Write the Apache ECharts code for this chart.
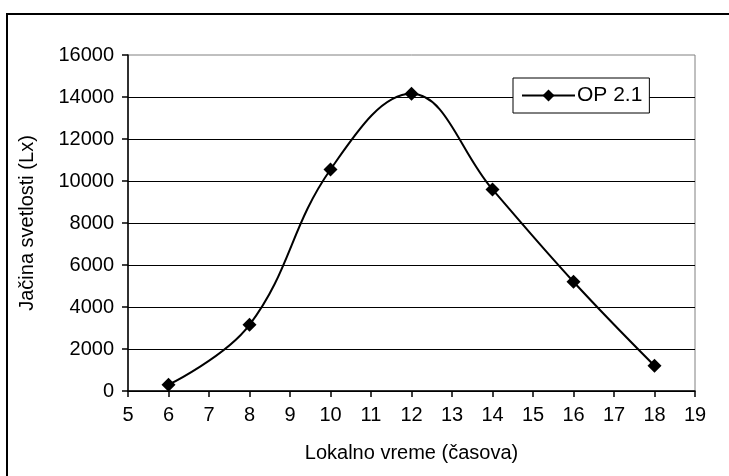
<!DOCTYPE html>
<html><head><meta charset="utf-8">
<script src="https://cdn.jsdelivr.net/npm/echarts@6/dist/echarts.min.js"></script>
<style>html,body{margin:0;padding:0;background:#fff}#c{width:729px;height:476px}</style>
</head><body><div id="c"></div>
<script>
const hours = [6, 8, 10, 12, 14, 16, 18];
const op21 = [300, 3150, 10550, 14150, 9600, 5200, 1200];
const seriesName = 'OP 2.1';
const xTitle = 'Lokalno vreme (časova)';
const yTitle = 'Jačina svetlosti (Lx)';

const FONT = 'Liberation Sans';
const FS = 20;
const chart = echarts.init(document.getElementById('c'), null, {renderer: 'canvas'});
chart.setOption({
  animation: false,
  backgroundColor: '#fff',
  textStyle: {fontFamily: FONT, color: '#000'},
  grid: {left: 128, right: 34, top: 55, bottom: 85, show: true, borderColor: '#808080', borderWidth: 1, backgroundColor: '#fff'},
  graphic: [{type: 'rect', shape: {x: 7, y: 14, width: 800, height: 600}, style: {fill: 'none', stroke: '#000', lineWidth: 2}, z: 100}],
  legend: {
    left: 513, top: 78, orient: 'horizontal',
    backgroundColor: '#fff', borderColor: '#000', borderWidth: 1,
    padding: [7, 7, 7, 8],
    itemWidth: 53, itemHeight: 15, itemGap: 0,
    textStyle: {fontFamily: FONT, fontSize: 21, color: '#000', padding: [0, 0, 0, -3]},
    data: [{name: seriesName}]
  },
  xAxis: {
    type: 'value', min: 5, max: 19, interval: 1,
    name: xTitle, nameLocation: 'middle', nameGap: 52,
    nameTextStyle: {fontFamily: FONT, fontSize: FS, color: '#000'},
    axisLine: {show: true, onZero: false, lineStyle: {color: '#000', width: 1.5}},
    axisTick: {show: true, inside: false, length: 6, lineStyle: {color: '#000', width: 1.5}},
    axisLabel: {fontFamily: FONT, fontSize: FS, color: '#000', margin: 14},
    splitLine: {show: false}
  },
  yAxis: {
    type: 'value', min: 0, max: 16000, interval: 2000,
    name: yTitle, nameLocation: 'middle', nameGap: 91, nameRotate: 90,
    nameTextStyle: {fontFamily: FONT, fontSize: FS, color: '#000'},
    axisLine: {show: true, lineStyle: {color: '#000', width: 1.5}},
    axisTick: {show: true, inside: false, length: 6, lineStyle: {color: '#000', width: 1.5}},
    axisLabel: {fontFamily: FONT, fontSize: FS, color: '#000', margin: 14, formatter: v => String(v)},
    splitLine: {show: true, showMaxLine: false, lineStyle: {color: '#000', width: 1.2}}
  },
  series: [{
    name: seriesName, type: 'line', smooth: 0.4,
    data: hours.map((h, i) => [h, op21[i]]),
    symbol: 'diamond', symbolSize: 14,
    lineStyle: {color: '#000', width: 2},
    itemStyle: {color: '#000'},
    z: 5
  }]
});
</script></body></html>
